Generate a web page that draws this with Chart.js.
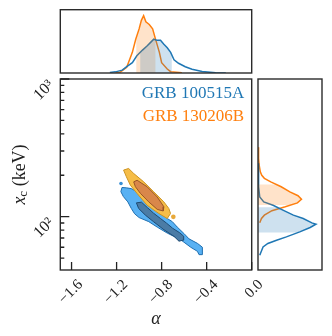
<!DOCTYPE html>
<html>
<head>
<meta charset="utf-8">
<script src="https://cdn.jsdelivr.net/npm/chart.js@4.4.1/dist/chart.umd.min.js"></script>
<style>
  body { margin: 0; background: #fff; }
  #wrap { position: relative; width: 332px; height: 336px; }
  canvas { position: absolute; left: 0; top: 0; }
</style>
</head>
<body>
<div id="wrap">
  <canvas id="main" width="332" height="336"></canvas>
  <canvas id="top" width="332" height="336"></canvas>
  <canvas id="side" width="332" height="336"></canvas>
</div>
<script>
// axes
var ALPHA_RANGE = [-1.7, 0];
var XC_RANGE = [41, 1000];
var X_TICKS = [-1.6, -1.2, -0.8, -0.4, 0.0];
var Y_TICKS = [100, 1000];
var Y_TICK_LABELS = ['10²', '10³'];
var Y_MINOR = [50, 60, 70, 80, 90, 200, 300, 400, 500, 600, 700, 800, 900];
var NAMES = ['GRB 100515A', 'GRB 130206B'];
var BLUE = '#1f77b4', ORANGE = '#ff7f0e';

// GRB 100515A contours (alpha, x_c in keV)
var A_OUT_ALPHA = [-1.152,-1.162,-1.140,-1.100,-1.070,-1.040,-1.000,-0.914,-0.839,-0.750,-0.631,-0.542,-0.482,-0.468,-0.438,-0.438,-0.482,-0.557,-0.602,-0.661,-0.705,-0.750,-0.854,-0.944,-1.020,-1.070,-1.113];
var A_OUT_XC = [163,152,140,128,115,105,98.5,92,84,76,68,60,56,53,53,60,64,69,75.5,84,92,97,112,130,152,160,162];
var A_IN_ALPHA = [-1.024,-1.004,-0.944,-0.870,-0.780,-0.691,-0.646,-0.609,-0.604,-0.640,-0.703,-0.756,-0.810,-0.872,-0.926,-0.979];
var A_IN_XC = [126,114.7,102.6,91.7,80.4,72.1,66.4,67.5,72.1,76.5,82.5,89.7,97,106.1,116.3,127.5];
var A_DOT = [-1.161, 174];

// GRB 130206B contours
var B_OUT_ALPHA = [-1.138,-1.093,-1.048,-0.959,-0.870,-0.780,-0.736,-0.721,-0.750,-0.825,-0.929,-1.018,-1.078,-1.113];
var B_OUT_XC = [218,224,206,179,151.5,128,114.7,105.5,97,105.5,121,147.5,169.5,195];
var B_IN_ALPHA = [-1.048,-1.018,-0.929,-0.839,-0.780,-0.786,-0.839,-0.914,-0.988,-1.033];
var B_IN_XC = [179,184,165,139,118,110,113,128,147.5,165];
var B_DOT = [-0.696, 99.7];

// marginal of alpha (relative density)
var A_TOP_ALPHA = [-1.26,-1.21,-1.15,-1.11,-1.06,-1.02,-0.97,-0.93,-0.90,-0.87,-0.84,-0.81,-0.78,-0.75,-0.72,-0.69,-0.65,-0.59,-0.53,-0.44,-0.32,-0.23];
var A_TOP_H = [0.01,0.02,0.05,0.11,0.18,0.30,0.40,0.47,0.53,0.59,0.57,0.57,0.50,0.44,0.36,0.23,0.17,0.11,0.065,0.025,0.005,0];
var B_TOP_ALPHA = [-1.21,-1.17,-1.11,-1.06,-1.03,-1.00,-0.98,-0.96,-0.94,-0.91,-0.88,-0.85,-0.82,-0.80,-0.75,-0.72,-0.62];
var B_TOP_H = [0.005,0.012,0.10,0.36,0.59,0.77,0.92,1.0,0.895,0.846,0.77,0.56,0.36,0.18,0.07,0.023,0.005];
var A_ALPHA_BAND = [-0.99, -0.71];
var B_ALPHA_BAND = [-1.025, -0.855];

// marginal of x_c (relative density)
var A_SIDE_XC = [244,165,139,128,121,111.5,102.6,97,90.1,88.2,83.5,77.5,71.3,67.5,63.9,60.3,52.5];
var A_SIDE_H = [0,0.01,0.03,0.1,0.26,0.43,0.61,0.78,0.93,1.0,0.90,0.72,0.49,0.32,0.17,0.087,0.03];
var B_SIDE_XC = [320,265,237,212,200,190,179,165,151.5,142,134,126,118,110.6,102.6,97,90.4];
var B_SIDE_H = [0,0.01,0.02,0.04,0.065,0.11,0.22,0.40,0.55,0.69,0.75,0.68,0.47,0.24,0.11,0.06,0.03];
var A_XC_BAND = [76.8, 117.2];
var B_XC_BAND = [121.8, 171.5];

Chart.defaults.font.family = '"Liberation Serif", "Times New Roman", serif';
Chart.defaults.animation = false;
Chart.defaults.events = [];
Chart.defaults.plugins.legend.display = false;
Chart.defaults.plugins.tooltip.enabled = false;

function pts(xs, ys) {
  return xs.map(function (x, i) { return {x: x, y: ys[i]}; });
}
function closed(xs, ys) {
  var p = pts(xs, ys);
  p.push(p[0]);
  return p;
}
function fmt(v) {
  return (v < 0 ? '\u2212' : '') + Math.abs(v).toFixed(1);
}

var frame = {
  id: 'frame',
  afterDatasetsDraw: function (chart) {
    var a = chart.chartArea, ctx = chart.ctx;
    ctx.save();
    ctx.strokeStyle = '#2b2b2b';
    ctx.lineWidth = 1.4;
    ctx.strokeRect(a.left, a.top, a.right - a.left, a.bottom - a.top);
    ctx.restore();
  }
};

// fill under a marginal curve, only inside its band
var shade = {
  id: 'shade',
  beforeDatasetDraw: function (chart, args) {
    var ds = chart.data.datasets[args.index];
    if (!ds.band) return;
    var ctx = chart.ctx, a = chart.chartArea, p = args.meta.data;
    var sx = chart.scales.x, sy = chart.scales.y;
    var horiz = ds.bandAxis === 'x';
    ctx.save();
    ctx.beginPath();
    if (horiz) {
      var l = sx.getPixelForValue(ds.band[0]), r = sx.getPixelForValue(ds.band[1]);
      ctx.rect(l, a.top, r - l, a.bottom - a.top);
    } else {
      var t = sy.getPixelForValue(ds.band[1]), b = sy.getPixelForValue(ds.band[0]);
      ctx.rect(a.left, t, a.right - a.left, b - t);
    }
    ctx.clip();
    ctx.beginPath();
    var base = horiz ? sy.getPixelForValue(0) : sx.getPixelForValue(0);
    if (horiz) ctx.moveTo(p[0].x, base); else ctx.moveTo(base, p[0].y);
    p.forEach(function (pt) { ctx.lineTo(pt.x, pt.y); });
    var last = p[p.length - 1];
    if (horiz) ctx.lineTo(last.x, base); else ctx.lineTo(base, last.y);
    ctx.closePath();
    ctx.fillStyle = ds.shadeColor;
    ctx.fill();
    ctx.restore();
  }
};

var decor = {
  id: 'decor',
  afterDatasetsDraw: function (chart) {
    var a = chart.chartArea, ctx = chart.ctx;
    var sx = chart.scales.x, sy = chart.scales.y;
    ctx.save();
    ctx.strokeStyle = '#222';
    ctx.lineWidth = 1.3;
    ctx.beginPath();
    X_TICKS.forEach(function (v) {
      var x = sx.getPixelForValue(v);
      ctx.moveTo(x, a.bottom); ctx.lineTo(x, a.bottom - 8);
    });
    Y_TICKS.forEach(function (v) {
      var y = sy.getPixelForValue(v);
      ctx.moveTo(a.left, y); ctx.lineTo(a.left + 9, y);
    });
    Y_MINOR.forEach(function (v) {
      var y = sy.getPixelForValue(v);
      ctx.moveTo(a.left, y); ctx.lineTo(a.left + 4, y);
    });
    ctx.stroke();

    // legend
    ctx.font = '17px "Liberation Serif"';
    ctx.textAlign = 'right';
    ctx.textBaseline = 'middle';
    [BLUE, ORANGE].forEach(function (c, i) {
      ctx.fillStyle = c;
      ctx.fillText(NAMES[i], a.right - 7.5, a.top + 14.5 + i * 23.5);
    });

    // axis titles
    ctx.fillStyle = '#222';
    ctx.textAlign = 'center';
    ctx.font = 'italic 18px "Liberation Serif"';
    ctx.fillText('α', (a.left + a.right) / 2, 319);

    ctx.translate(20, (a.top + a.bottom) / 2);
    ctx.rotate(-Math.PI / 2);
    ctx.textAlign = 'left';
    ctx.font = 'italic 18px "Liberation Serif"';
    var wx = ctx.measureText('x').width;
    ctx.font = '13px "Liberation Serif"';
    var wc = ctx.measureText('c').width;
    ctx.font = '18px "Liberation Serif"';
    var wr = ctx.measureText(' (keV)').width;
    var x0 = -(wx + wc + wr) / 2;
    ctx.font = 'italic 18px "Liberation Serif"';
    ctx.fillText('x', x0, 0);
    ctx.font = '13px "Liberation Serif"';
    ctx.fillText('c', x0 + wx, 4);
    ctx.font = '18px "Liberation Serif"';
    ctx.fillText(' (keV)', x0 + wx + wc, 0);
    ctx.restore();
  }
};

new Chart(document.getElementById('main'), {
  type: 'line',
  data: {
    datasets: [
      {data: closed(A_OUT_ALPHA, A_OUT_XC), fill: 'shape', backgroundColor: '#58b1f3', borderColor: '#1f6fb0', borderWidth: 1, pointRadius: 0, order: 6},
      {data: [{x: A_DOT[0], y: A_DOT[1]}], showLine: false, pointRadius: 1.8, pointBorderWidth: 0, pointBackgroundColor: '#3a90d6', order: 5},
      {data: closed(A_IN_ALPHA, A_IN_XC), fill: 'shape', backgroundColor: '#4b7ca6', borderColor: '#1d4a72', borderWidth: 1, pointRadius: 0, order: 4},
      {data: closed(B_OUT_ALPHA, B_OUT_XC), fill: 'shape', backgroundColor: '#f6bd47', borderColor: '#cc9322', borderWidth: 1, pointRadius: 0, order: 3},
      {data: [{x: B_DOT[0], y: B_DOT[1]}], showLine: false, pointRadius: 2.3, pointBorderWidth: 0, pointBackgroundColor: '#e8a93a', order: 2},
      {data: closed(B_IN_ALPHA, B_IN_XC), fill: 'shape', backgroundColor: '#d9874a', borderColor: '#9a5526', borderWidth: 1, pointRadius: 0, order: 1}
    ]
  },
  options: {
    responsive: false,
    layout: {padding: {left: 0, top: 79, right: 80.3, bottom: 0}},
    scales: {
      x: {
        type: 'linear', min: ALPHA_RANGE[0], max: ALPHA_RANGE[1],
        afterBuildTicks: function (s) { s.ticks = X_TICKS.map(function (v) { return {value: v}; }); },
        afterFit: function (s) { s.height = 66; },
        grid: {display: false, drawTicks: false},
        border: {display: false},
        ticks: {minRotation: 45, maxRotation: 45, labelOffset: 9, padding: 6, color: '#222', font: {size: 15},
          callback: function (v) { return fmt(v); }}
      },
      y: {
        type: 'logarithmic', min: XC_RANGE[0], max: XC_RANGE[1],
        afterBuildTicks: function (s) { s.ticks = Y_TICKS.map(function (v) { return {value: v}; }); },
        afterFit: function (s) { s.width = 60.3; },
        grid: {display: false, drawTicks: false},
        border: {display: false},
        ticks: {minRotation: 45, maxRotation: 45, labelOffset: 4, padding: 9, color: '#222', font: {size: 16},
          callback: function (v, i) { return Y_TICK_LABELS[i]; }}
      }
    }
  },
  plugins: [frame, decor]
});

new Chart(document.getElementById('top'), {
  type: 'line',
  data: {
    datasets: [
      {data: pts(A_TOP_ALPHA, A_TOP_H), band: A_ALPHA_BAND, bandAxis: 'x', shadeColor: 'rgba(31,119,180,0.22)', fill: false, borderColor: 'rgba(0,0,0,0)', borderWidth: 0, pointRadius: 0},
      {data: pts(B_TOP_ALPHA, B_TOP_H), band: B_ALPHA_BAND, bandAxis: 'x', shadeColor: 'rgba(255,127,14,0.22)', fill: false, borderColor: 'rgba(0,0,0,0)', borderWidth: 0, pointRadius: 0},
      {data: pts(A_TOP_ALPHA, A_TOP_H), fill: false, borderColor: BLUE, borderWidth: 1.5, pointRadius: 0},
      {data: pts(B_TOP_ALPHA, B_TOP_H), fill: false, borderColor: ORANGE, borderWidth: 1.5, pointRadius: 0}
    ]
  },
  options: {
    responsive: false,
    layout: {padding: {left: 60.3, top: 9.7, right: 80.3, bottom: 263}},
    scales: {
      x: {type: 'linear', display: false, min: ALPHA_RANGE[0], max: ALPHA_RANGE[1]},
      y: {type: 'linear', display: false, min: 0, max: 1.105}
    }
  },
  plugins: [shade, frame]
});

new Chart(document.getElementById('side'), {
  type: 'line',
  data: {
    datasets: [
      {data: pts(A_SIDE_H, A_SIDE_XC), band: A_XC_BAND, bandAxis: 'y', shadeColor: 'rgba(31,119,180,0.22)', fill: false, borderColor: 'rgba(0,0,0,0)', borderWidth: 0, pointRadius: 0},
      {data: pts(B_SIDE_H, B_SIDE_XC), band: B_XC_BAND, bandAxis: 'y', shadeColor: 'rgba(255,127,14,0.22)', fill: false, borderColor: 'rgba(0,0,0,0)', borderWidth: 0, pointRadius: 0},
      {data: pts(A_SIDE_H, A_SIDE_XC), fill: false, borderColor: BLUE, borderWidth: 1.5, pointRadius: 0},
      {data: pts(B_SIDE_H, B_SIDE_XC), fill: false, borderColor: ORANGE, borderWidth: 1.5, pointRadius: 0}
    ]
  },
  options: {
    responsive: false,
    indexAxis: 'y',
    layout: {padding: {left: 258, top: 79, right: 10, bottom: 66}},
    scales: {
      x: {type: 'linear', display: false, min: 0, max: 1.104},
      y: {type: 'logarithmic', display: false, min: XC_RANGE[0], max: XC_RANGE[1]}
    }
  },
  plugins: [shade, frame]
});
</script>
</body>
</html>
